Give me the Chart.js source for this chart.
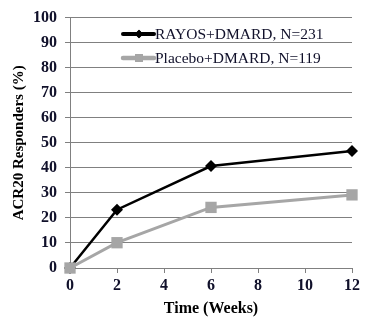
<!DOCTYPE html>
<html>
<head>
<meta charset="utf-8">
<script src="https://cdn.jsdelivr.net/npm/chart.js@4/dist/chart.umd.min.js"></script>
<style>
html,body{margin:0;padding:0;background:#fff;}
#wrap{width:370px;height:322px;position:relative;}
</style>
</head>
<body>
<div id="wrap"><canvas id="c" width="370" height="322"></canvas></div>
<script>
const weeks = [0, 2, 6, 12];
const rayos = [0, 23.3, 40.7, 46.7];
const placebo = [0, 10.1, 24.2, 29.2];
const seriesLabels = ['RAYOS+DMARD, N=231', 'Placebo+DMARD, N=119'];
const xTitle = 'Time (Weeks)';
const yTitle = 'ACR20 Responders (%)';

const textColor = '#10102a';
const serif = "'Liberation Serif', 'Times New Roman', serif";

const legendPlugin = {
  id: 'insideLegend',
  afterDraw(chart) {
    const ctx = chart.ctx;
    const rows = [34, 58];
    chart.data.datasets.forEach((ds, i) => {
      const y = rows[i];
      ctx.save();
      ctx.strokeStyle = ds.borderColor;
      ctx.lineWidth = ds.borderWidth + 1.5;
      ctx.lineCap = 'round';
      ctx.beginPath();
      ctx.moveTo(123, y);
      ctx.lineTo(154, y);
      ctx.stroke();
      ctx.fillStyle = ds.borderColor;
      Chart.helpers.drawPoint(ctx, {pointStyle: ds.pointStyle, radius: ds.pointRadius * 0.7, borderWidth: 0}, 139, y);
      ctx.fill();
      ctx.fillStyle = textColor;
      ctx.font = "15.5px " + serif;
      ctx.textBaseline = 'middle';
      ctx.textAlign = 'left';
      ctx.fillText(ds.label, 155, y + 1);
      ctx.restore();
    });
  }
};

new Chart(document.getElementById('c'), {
  type: 'line',
  data: {
    datasets: [
      {
        label: seriesLabels[0],
        data: weeks.map((w, i) => ({x: w, y: rayos[i]})),
        borderColor: '#000000',
        backgroundColor: '#000000',
        borderWidth: 2.5,
        pointStyle: 'rectRot',
        pointRadius: 6,
        pointBorderWidth: 0,
        tension: 0,
        clip: false,
        order: 1
      },
      {
        label: seriesLabels[1],
        data: weeks.map((w, i) => ({x: w, y: placebo[i]})),
        borderColor: '#a6a6a6',
        backgroundColor: '#a6a6a6',
        borderWidth: 3,
        pointStyle: 'rect',
        pointRadius: 8,
        pointBorderWidth: 0,
        tension: 0,
        clip: false,
        order: 0
      }
    ]
  },
  options: {
    responsive: false,
    animation: false,
    layout: {padding: {top: 17, right: 18, left: 6, bottom: 0}},
    plugins: {legend: {display: false}, tooltip: {enabled: false}},
    scales: {
      x: {
        type: 'linear',
        min: 0, max: 12,
        ticks: {stepSize: 2, color: textColor, font: {family: serif, size: 16, weight: 'bold'}, padding: 3},
        grid: {drawOnChartArea: false, drawTicks: true, tickLength: 5, color: '#808080'},
        border: {color: '#808080', width: 1},
        title: {display: true, text: xTitle, color: '#000', font: {family: serif, size: 16, weight: 'bold'}, padding: {top: 4}},
        afterFit(s) { s.height = 54; }
      },
      y: {
        min: 0, max: 100,
        ticks: {stepSize: 10, color: textColor, font: {family: serif, size: 16, weight: 'bold'}, padding: 8},
        grid: {color: '#808080', tickLength: 5, drawTicks: true},
        border: {color: '#808080', width: 1},
        title: {display: true, text: yTitle, color: '#000', font: {family: serif, size: 15, weight: 'bold'}, padding: {bottom: 2}},
        afterFit(s) { s.width = 64; }
      }
    }
  },
  plugins: [legendPlugin]
});
</script>
</body>
</html>
